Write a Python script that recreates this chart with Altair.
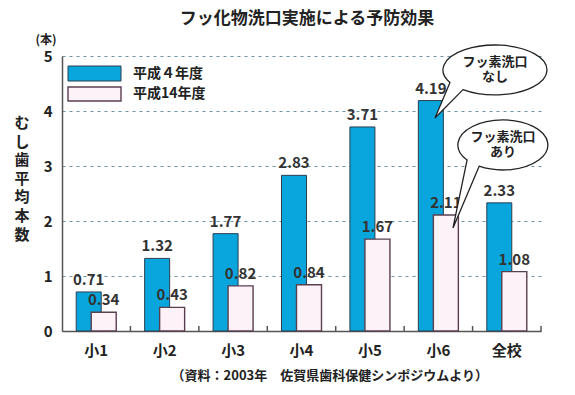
import altair as alt
import pandas as pd

categories = ["小1", "小2", "小3", "小4", "小5", "小6", "全校"]
h4_values = [0.71, 1.32, 1.77, 2.83, 3.71, 4.19, 2.33]
h14_values = [0.34, 0.43, 0.82, 0.84, 1.67, 2.11, 1.08]
series_names = ["平成４年度", "平成14年度"]
y_title_chars = ["む", "し", "歯", "平", "均", "本", "数"]
title_text = "フッ化物洗口実施による予防効果"
unit_text = "(本)"
source_text = "（資料：2003年　佐賀県歯科保健シンポジウムより）"
bubble1_text = ["フッ素洗口", "なし"]
bubble2_text = ["フッ素洗口", "あり"]

FONT = "Noto Sans CJK JP"
BLUE = "#08a6dd"
PINK = "#fdf2f8"
W, H = 479, 275
HALF = W / len(categories) / 2

df = pd.DataFrame({"cat": categories, "h4": h4_values, "h14": h14_values})
one = pd.DataFrame({"k": [0]})

xenc = alt.X("cat:N", sort=categories,
             scale=alt.Scale(paddingInner=0, paddingOuter=0),
             axis=alt.Axis(title=None, labelAngle=0, labelFont=FONT, labelFontSize=15,
                           labelFontWeight="bold", labelColor="#222", labelPadding=12,
                           ticks=False, domainColor="#555", domainWidth=1.5))
yenc_axis = alt.Axis(title=None, values=[0, 1, 2, 3, 4, 5], labelFont=FONT, labelFontSize=15,
                     labelFontWeight="bold", labelColor="#222", labelPadding=10, ticks=False,
                     domainColor="#555", domainWidth=1.5, grid=True, gridColor="#6a93a8",
                     gridDash=[3, 4], gridWidth=1.2)

base = alt.Chart(df)
blue = base.mark_bar(width=25, xOffset=-7.5, color=BLUE, stroke="#2b3e4e", strokeWidth=1).encode(
    x=xenc,
    y=alt.Y("h4:Q", scale=alt.Scale(domain=[0, 5]), axis=yenc_axis),
)
white = base.mark_bar(width=25, xOffset=7.5, color=PINK, stroke="#5a3f50", strokeWidth=1.4).encode(
    x=alt.X("cat:N", sort=categories), y=alt.Y("h14:Q"))
blue_txt = base.mark_text(xOffset=-7.5, dy=-4, baseline="bottom", font=FONT, fontSize=15,
                          fontWeight="bold", color="#333").encode(
    x=alt.X("cat:N", sort=categories), y="h4:Q", text=alt.Text("h4:Q", format=".2f"))
white_txt = base.mark_text(xOffset=7.5, dy=-4, baseline="bottom", font=FONT, fontSize=15,
                           fontWeight="bold", color="#333").encode(
    x=alt.X("cat:N", sort=categories), y="h14:Q", text=alt.Text("h14:Q", format=".2f"))
ticks = base.mark_rule(xOffset=HALF, color="#555", strokeWidth=1.5).encode(
    x=alt.X("cat:N", sort=categories), y=alt.value(H), y2=alt.value(H - 5))

oc = alt.Chart(one)
leg1 = oc.mark_rect(color=BLUE, stroke="#2b3e4e", strokeWidth=1).encode(
    x=alt.value(6), x2=alt.value(59), y=alt.value(10), y2=alt.value(25))
leg2 = oc.mark_rect(color=PINK, stroke="#5a3f50", strokeWidth=1.4).encode(
    x=alt.value(6), x2=alt.value(59), y=alt.value(31), y2=alt.value(45))
leg1t = oc.mark_text(align="left", baseline="middle", font=FONT, fontSize=14, fontWeight="bold",
                     color="#222").encode(x=alt.value(71), y=alt.value(18), text=alt.value(series_names[0]))
leg2t = oc.mark_text(align="left", baseline="middle", font=FONT, fontSize=14, fontWeight="bold",
                     color="#222").encode(x=alt.value(71), y=alt.value(38), text=alt.value(series_names[1]))

path1 = "M -0.866 0.24 L -1.154 0.923 L -0.616 0.378 A 1 0.48 0 1 0 -0.866 0.24 Z"
path2 = "M -0.799 0.335 L -1.111 1.844 L -0.530 0.471 A 1 0.556 0 1 0 -0.799 0.335 Z"
b1 = oc.mark_point(shape=path1, size=104 * 104, filled=True, fill="white", stroke="#222",
                   strokeWidth=1.3, opacity=1).encode(x=alt.value(433), y=alt.value(14))
b2 = oc.mark_point(shape=path2, size=90 * 90, filled=True, fill="white", stroke="#222",
                   strokeWidth=1.3, opacity=1).encode(x=alt.value(441), y=alt.value(89))
b1t = oc.mark_text(font=FONT, fontSize=13, fontWeight="bold", color="#222", lineHeight=15,
                   baseline="middle").encode(x=alt.value(433), y=alt.value(6), text=alt.value(bubble1_text))
b2t = oc.mark_text(font=FONT, fontSize=13, fontWeight="bold", color="#222", lineHeight=15,
                   baseline="middle").encode(x=alt.value(441), y=alt.value(81), text=alt.value(bubble2_text))

title = oc.mark_text(font=FONT, fontSize=17, fontWeight="bold", color="#222", baseline="middle").encode(
    x=alt.value(245), y=alt.value(-37), text=alt.value(title_text))
unit = oc.mark_text(font=FONT, fontSize=12, fontWeight="bold", color="#222", baseline="middle").encode(
    x=alt.value(-16), y=alt.value(-16), text=alt.value(unit_text))
ytitle = oc.mark_text(font=FONT, fontSize=15, fontWeight="bold", color="#222", lineHeight=18.6,
                      baseline="middle").encode(x=alt.value(-40), y=alt.value(67),
                                                text=alt.value(y_title_chars))
source = oc.mark_text(font=FONT, fontSize=13, fontWeight="bold", color="#222", align="right",
                      baseline="middle").encode(x=alt.value(426), y=alt.value(320),
                                                text=alt.value(source_text))

chart = alt.layer(blue, white, ticks, blue_txt, white_txt, leg1, leg2, leg1t, leg2t,
                  b1, b2, b1t, b2t, title, unit, ytitle, source).properties(
    width=W, height=H,
    autosize=alt.AutoSizeParams(type="none"),
    padding={"left": 54, "top": 48, "right": 26, "bottom": 60},
    background="white",
).configure_view(stroke=None)

chart.save("out.html", embed_options={"renderer": "svg", "actions": False})
